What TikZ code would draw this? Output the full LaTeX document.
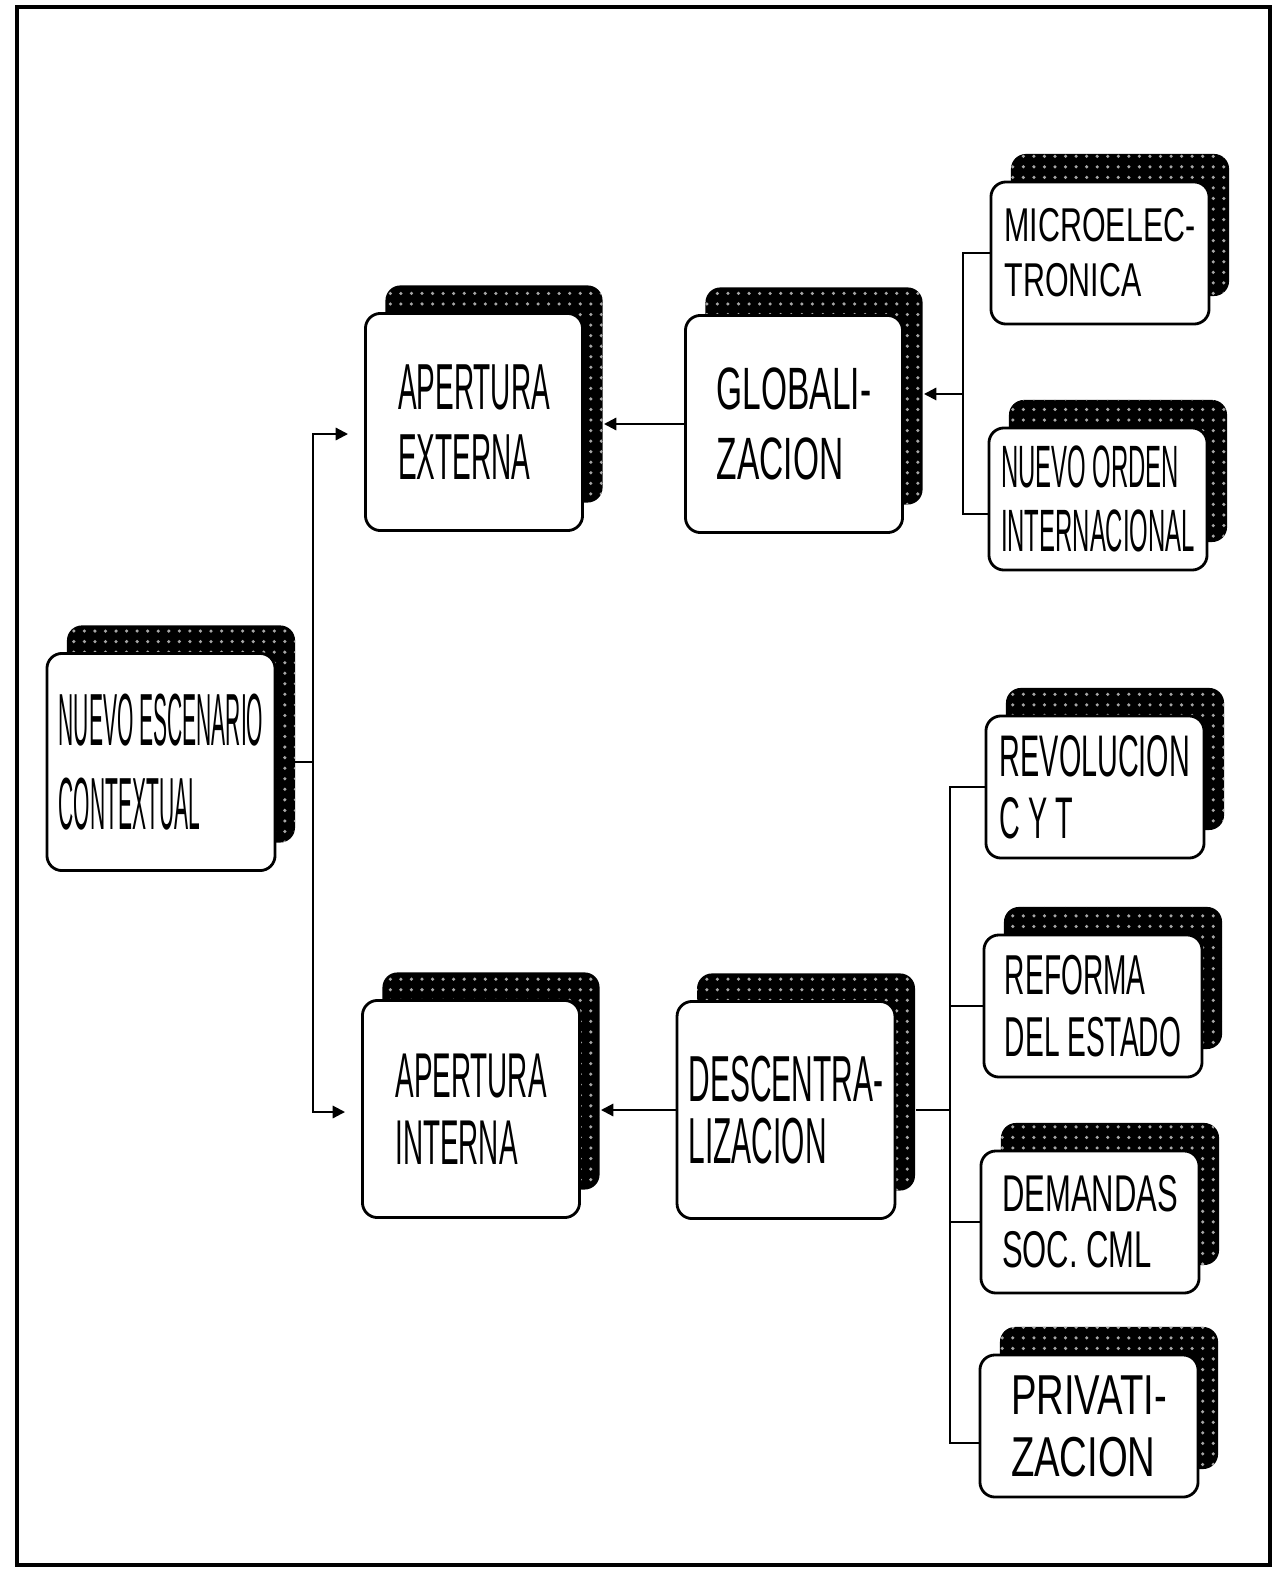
\documentclass[tikz,border=0pt]{standalone}
\usepackage{fontspec}
\usetikzlibrary{shadows,patterns,arrows.meta}
\begin{document}
\begin{tikzpicture}[x=0.01cm, y=-0.01cm,
  box/.style={draw, line width=0.8pt, rounded corners=0.15cm, fill=white, align=left,
    general shadow={shadow xshift=0.2cm, shadow yshift=0.28cm, fill=black},
    general shadow={shadow xshift=0.2cm, shadow yshift=0.28cm, pattern=dots, pattern color=gray!70}},
  big/.style={box, minimum width=2.17cm, minimum height=2.17cm},
  small/.style={box, minimum width=2.18cm, minimum height=1.42cm},
  txt/.style n args={3}{font={\fontsize{#1}{#2}\fontspec{Liberation Sans}[FakeStretch=#3]\selectfont}},
  link/.style={line width=0.6pt},
  arrow/.style={link, -{Triangle[length=3.5pt, width=3.5pt]}}]
  \useasboundingbox (0,0) rectangle (1281,1570);
  \draw[line width=1.2pt] (17,7) rectangle (1270,1565);

  \node[big, txt={21}{24}{0.285}] (esc) at (161,762) {NUEVO ESCENARIO\\CONTEXTUAL};
  \node[big, txt={18.5}{20}{0.43}] (apext) at (474,422) {APERTURA\\EXTERNA};
  \node[big, txt={18}{19}{0.44}] (apint) at (471,1109) {APERTURA\\INTERNA};
  \node[big, txt={17}{20}{0.56}] (glob) at (794,424) {GLOBALI-\\ZACION};
  \node[big, txt={18.5}{17.5}{0.46}] (desc) at (786,1110) {DESCENTRA-\\LIZACION};
  \node[small, txt={13.5}{15.6}{0.64}] (micro) at (1100,253) {MICROELEC-\\TRONICA};
  \node[small, txt={17}{18}{0.4}] (orden) at (1098,499) {NUEVO ORDEN\\INTERNACIONAL};
  \node[small, txt={16.7}{17.6}{0.49}] (revol) at (1095,787) {REVOLUCION\\C Y T};
  \node[small, txt={16}{17.6}{0.5}] (reforma) at (1093,1006) {REFORMA\\DEL ESTADO};
  \node[small, txt={14.7}{16}{0.6}] (demand) at (1090,1222) {DEMANDAS\\SOC. CML};
  \node[small, txt={16}{17.6}{0.68}] (privat) at (1089,1426) {PRIVATI-\\ZACION};

  % left fork
  \coordinate (forkA) at (313,0);
  \draw[link] (esc.east) -- (esc.east -| forkA);
  \draw[arrow, shorten >=0.16cm] (esc.east -| forkA) |- ([yshift=-0.12cm]apext.west);
  \draw[arrow, shorten >=0.16cm] (esc.east -| forkA) |- ([yshift=-0.03cm]apint.west);

  % middle links
  \draw[arrow, shorten >=0.2cm] (glob.west) -- (glob.west -| apext.east);
  \draw[arrow, shorten >=0.2cm] (desc.west) -- (desc.west -| apint.east);

  % upper bus
  \coordinate (busA) at (963,0);
  \coordinate (globIn) at ([yshift=0.3cm]glob.east);
  \draw[link] (micro.west) -- (micro.west -| busA) |- ([yshift=-0.15cm]orden.west);
  \draw[arrow, shorten >=0.2cm] (globIn -| busA) -- (globIn);

  % lower bus
  \coordinate (busB) at (950,0);
  \draw[link] (revol.west) -- (revol.west -| busB) |- ([yshift=-0.17cm]privat.west);
  \draw[link] (reforma.west) -- (reforma.west -| busB);
  \draw[link] (demand.west) -- (demand.west -| busB);
  \draw[link] ([xshift=0.2cm]desc.east) -- (desc.east -| busB);
\end{tikzpicture}
\end{document}
